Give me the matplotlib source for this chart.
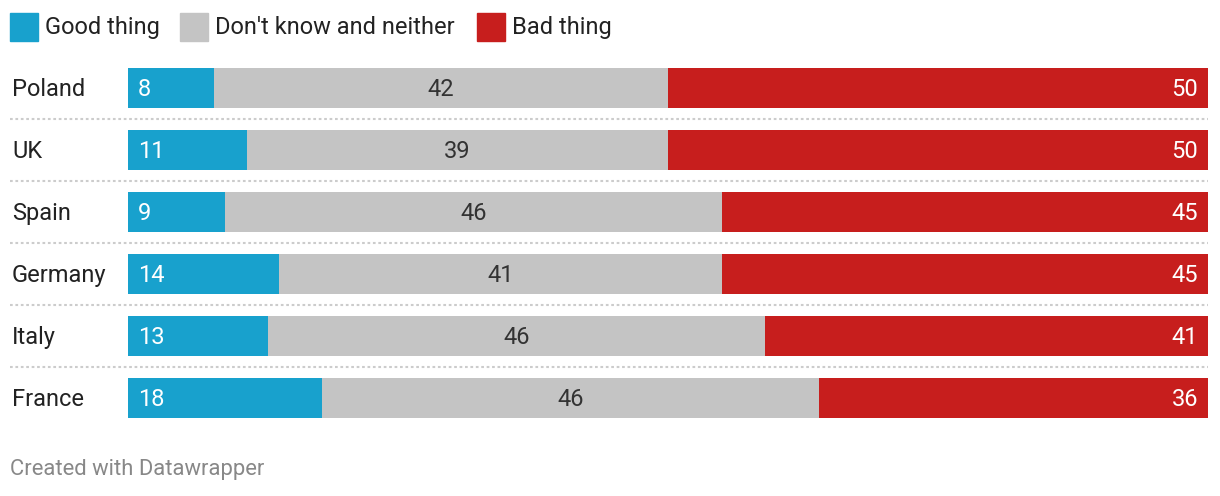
import matplotlib.pyplot as plt
from matplotlib.patches import Rectangle

countries = ['Poland', 'UK', 'Spain', 'Germany', 'Italy', 'France']
good = [8, 11, 9, 14, 13, 18]
neither = [42, 39, 46, 41, 46, 46]
bad = [50, 50, 45, 45, 41, 36]

series_names = ['Good thing', "Don't know and neither", 'Bad thing']
colores = ['#18a1cd', '#c4c4c4', '#c71e1d']

plt.rcParams['font.family'] = ['Roboto', 'DejaVu Sans']

W, H = 1220, 496
fig = plt.figure(figsize=(W / 100, H / 100), dpi=100)

# axes: bars from x=128 to 1208, rows 57..429 px
ax = fig.add_axes([128 / W, 1 - 429 / H, 1080 / W, 372 / H])
ax.set_xlim(0, 100)
ax.set_ylim(len(countries) - 0.5, -0.5)
ax.axis('off')

y = list(range(len(countries)))
alto = 40 / 62
ax.barh(y, good, height=alto, color=colores[0])
ax.barh(y, neither, left=good, height=alto, color=colores[1])
left_bad = [g + n for g, n in zip(good, neither)]
ax.barh(y, bad, left=left_bad, height=alto, color=colores[2])

fs = 17
dy = 1.5 / 62  # small nudge down so text sits like the original
for i in y:
    ax.text(0 + 0.9, i + dy, str(good[i]), color='white', fontsize=fs, ha='left', va='center')
    ax.text(good[i] + neither[i] / 2, i + dy, str(neither[i]), color='#333333', fontsize=fs,
            ha='center', va='center')
    ax.text(100 - 0.9, i + dy, str(bad[i]), color='white', fontsize=fs, ha='right', va='center')
    # country label
    fig.text(12 / W, 1 - (89.5 + 62 * i) / H, countries[i], fontsize=fs, color='#222222',
             ha='left', va='center')

# dotted separators
for i in range(len(countries) - 1):
    yy = 1 - (119 + 62 * i) / H
    fig.add_artist(plt.Line2D([10 / W, 1208 / W], [yy, yy], color='#cccccc', lw=1.5,
                              linestyle=(0, (1.3, 1.3))))

# legend
pos_cuadro = [10, 180, 477]
for k in range(3):
    fig.add_artist(Rectangle((pos_cuadro[k] / W, 1 - 41 / H), 28 / W, 28 / H,
                             color=colores[k], transform=fig.transFigure))
    fig.text((pos_cuadro[k] + 35) / W, 1 - 27.5 / H, series_names[k], fontsize=fs,
             color='#222222', ha='left', va='center')

fig.text(10 / W, 1 - 470 / H, 'Created with Datawrapper', fontsize=15.8, color='#888888',
         ha='left', va='center')

plt.savefig('out.png', dpi=100)
